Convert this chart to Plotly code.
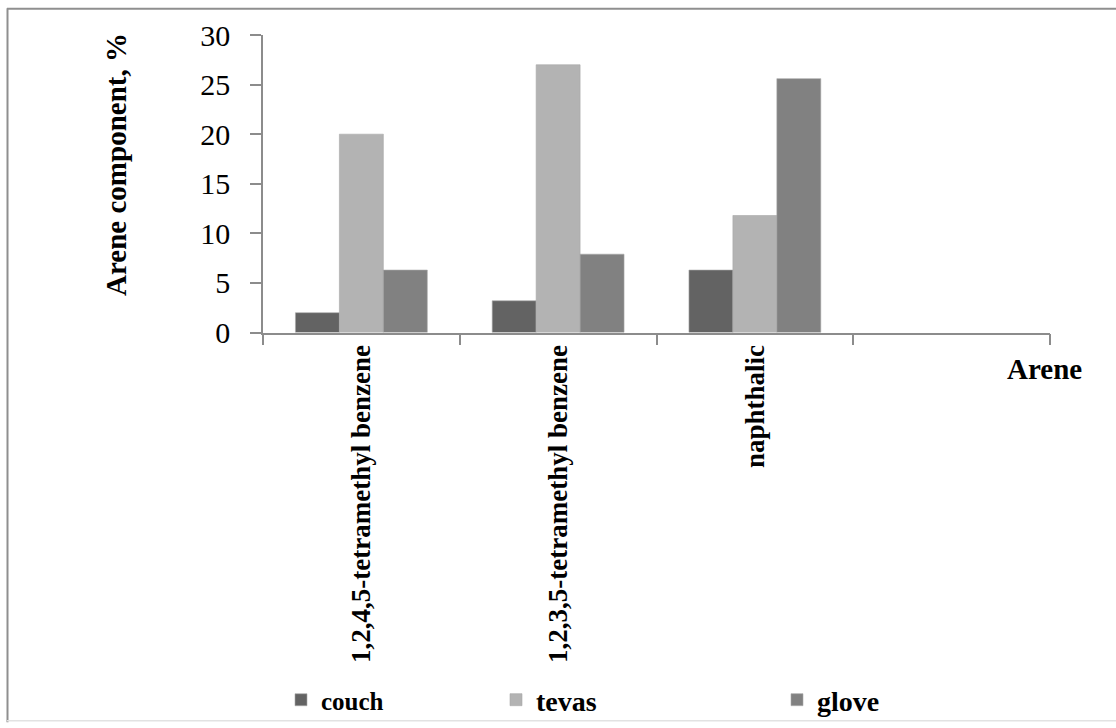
import plotly.graph_objects as go

# Arene composition by sample
categories = ["1,2,4,5-tetramethyl benzene", "1,2,3,5-tetramethyl benzene", "naphthalic", " "]
couch = [2.0, 3.2, 6.3, None]
tevas = [20.0, 27.0, 11.8, None]
glove = [6.3, 7.9, 25.6, None]
y_ticks = [0, 5, 10, 15, 20, 25, 30]

W, H = 1116, 728
L, R, T, B = 263, 66, 35, 393
PW, PH = W - L - R, H - T - B

SERIF = "Liberation Serif, Times New Roman, serif"
AXIS_COLOR = "#8c8c8c"


def px_x(px):
    return (px - L) / PW


def px_y(py):
    return (H - B - py) / PH


fig = go.Figure()
series = [
    ("couch", couch, "#636363", "legend", 25),
    ("tevas", tevas, "#b3b3b3", "legend2", 28),
    ("glove", glove, "#818181", "legend3", 28),
]
for name, vals, color, leg, _ in series:
    fig.add_trace(go.Bar(
        x=categories, y=vals, name=name, legend=leg,
        marker=dict(color=color, line=dict(color="#a8a8a8", width=0.6)),
    ))

legend_pos = {"legend": 281, "legend2": 496, "legend3": 777}
legend_layouts = {}
for name, vals, color, leg, fsize in series:
    legend_layouts[leg] = dict(
        x=legend_pos[leg] / W, y=1 - 700 / H, xref="container", yref="container",
        xanchor="left", yanchor="middle", orientation="h",
        bgcolor="rgba(0,0,0,0)", borderwidth=0,
        font=dict(family=SERIF, size=fsize, color="black", weight="bold"),
    )

fig.update_layout(
    width=W, height=H,
    margin=dict(l=L, r=R, t=T, b=B),
    paper_bgcolor="white", plot_bgcolor="white",
    barmode="group", bargap=0.33, bargroupgap=0,
    showlegend=True,
    **legend_layouts,
    xaxis=dict(
        type="category", categoryorder="array", categoryarray=categories,
        range=[-0.5, 3.5], showline=True, linecolor=AXIS_COLOR, linewidth=1.5,
        ticks="outside", tickson="boundaries", ticklen=11, tickcolor=AXIS_COLOR, tickwidth=1.5,
        tickangle=-90, showgrid=False, zeroline=False,
        tickfont=dict(family=SERIF, size=27, color="black", weight="bold"),
    ),
    yaxis=dict(
        range=[0, 30], tickvals=y_ticks, showline=True, linecolor=AXIS_COLOR, linewidth=1.5,
        ticks="outside", ticklen=11, tickcolor=AXIS_COLOR, tickwidth=1.5,
        showgrid=False, zeroline=False, ticklabelstandoff=14,
        tickfont=dict(family=SERIF, size=30, color="black"),
    ),
    annotations=[
        dict(text="Arene component, %", xref="paper", yref="paper",
             x=px_x(116), y=px_y(166), xanchor="center", yanchor="middle",
             textangle=-90, showarrow=False,
             font=dict(family=SERIF, size=29, color="black", weight="bold")),
        dict(text="Arene", xref="paper", yref="paper",
             x=px_x(1044), y=px_y(372), xanchor="center", yanchor="middle",
             showarrow=False,
             font=dict(family=SERIF, size=29, color="black", weight="bold")),
    ],
    shapes=[
        dict(type="line", xref="paper", yref="paper", x0=px_x(7), x1=px_x(W), y0=px_y(8.5), y1=px_y(8.5),
             line=dict(color="#8f8f8f", width=2)),
        dict(type="line", xref="paper", yref="paper", x0=px_x(7.5), x1=px_x(7.5), y0=px_y(8), y1=px_y(H),
             line=dict(color="#8f8f8f", width=2)),
        dict(type="line", xref="paper", yref="paper", x0=px_x(7), x1=px_x(W), y0=px_y(726.5), y1=px_y(726.5),
             line=dict(color="#e2e2e2", width=1.5)),
    ],
)

fig.write_html("out.html")
